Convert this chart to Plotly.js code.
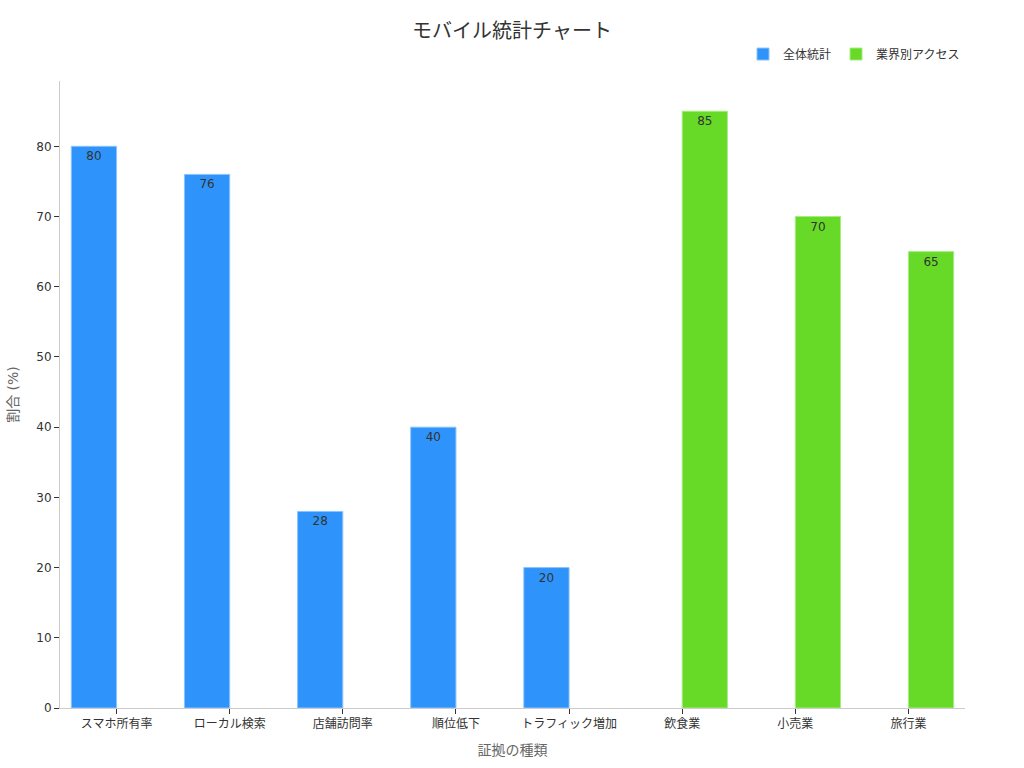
<!DOCTYPE html>
<html><head><meta charset="utf-8">
<script src="https://cdn.plot.ly/plotly-3.0.1.min.js"></script>
<style>html,body{margin:0;padding:0;background:#fff}#chart{width:1024px;height:768px}</style>
</head><body><div id="chart"></div>
<script>
const categories = ["スマホ所有率","ローカル検索","店舗訪問率","順位低下","トラフィック増加","飲食業","小売業","旅行業"];
const overallValues = [80, 76, 28, 40, 20, null, null, null];
const industryValues = [null, null, null, null, null, 85, 70, 65];
const seriesNames = ["全体統計", "業界別アクセス"];
const font = "DejaVu Sans, Noto Sans CJK JP, sans-serif";
function lbl(v){ return v.map(x => x == null ? "" : String(x)); }
const traces = [
  {type:"bar", name:seriesNames[0], x:categories, y:overallValues, text:lbl(overallValues),
   textposition:"inside", insidetextanchor:"end", constraintext:"none",
   textfont:{family:font, size:12, color:"#333"},
   marker:{color:"#2E93FA", line:{color:"#8cc4fb", width:1}}, hoverinfo:"x+y"},
  {type:"bar", name:seriesNames[1], x:categories, y:industryValues, text:lbl(industryValues),
   textposition:"inside", insidetextanchor:"end", constraintext:"none",
   textfont:{family:font, size:12, color:"#333"},
   marker:{color:"#66DA26", line:{color:"#a8ec84", width:1}}, hoverinfo:"x+y"}
];
const layout = {
  width:1024, height:768,
  margin:{l:60, r:59, t:81, b:60},
  font:{family:font, size:12, color:"#333"},
  title:{text:"モバイル統計チャート", x:0.5, xanchor:"center", y:0.96, yanchor:"middle", font:{family:font, size:20, color:"#333"}},
  barmode:"group", bargap:0.2, bargroupgap:0,
  showlegend:true,
  legend:{orientation:"h", x:1.0, xanchor:"right", y:1.043, yanchor:"middle", font:{family:font, size:12, color:"#333"}, traceorder:"normal"},
  xaxis:{title:{text:"証拠の種類", font:{family:font, size:14, color:"#666"}, standoff:14},
    showline:true, linecolor:"#ccc", linewidth:1, ticks:"outside", ticklen:5, tickcolor:"#333",
    tickfont:{family:font, size:12, color:"#333"}, showgrid:false, zeroline:false},
  yaxis:{title:{text:"割合 (%)", font:{family:font, size:14, color:"#666"}, standoff:14},
    range:[0, 89.3], dtick:10, showline:true, linecolor:"#ccc", linewidth:1, ticks:"outside", ticklen:5, tickcolor:"#333",
    tickfont:{family:font, size:12, color:"#333"}, showgrid:false, zeroline:false},
  plot_bgcolor:"#fff", paper_bgcolor:"#fff"
};
Plotly.newPlot("chart", traces, layout, {displayModeBar:false});
</script></body></html>
